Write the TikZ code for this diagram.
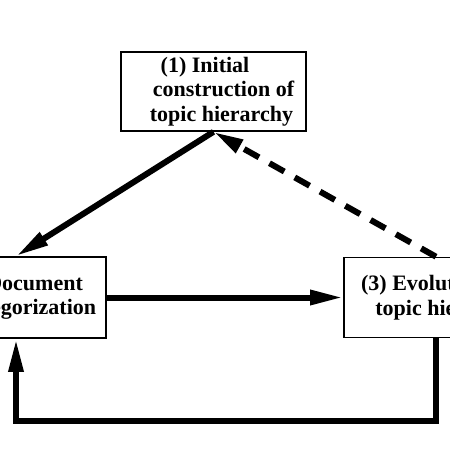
\documentclass[tikz,border=0pt]{standalone}
\usepackage{fontspec}
\setmainfont{Liberation Serif}
\usetikzlibrary{arrows.meta}
\begin{document}
\begin{tikzpicture}[x=1pt,y=-1pt,
  box/.style={draw, line width=1.6pt, fill=white, inner sep=0pt, align=center,
    font=\fontsize{22}{24.5}\selectfont\bfseries},
  flow/.style={line width=6pt, -{Triangle[length=33pt,width=14pt]}},
  feedback/.style={flow, dash pattern=on 17pt off 12pt, -{Triangle[length=30pt,width=14pt]}}
]
\useasboundingbox (0,0) rectangle (450,450);
\clip (0,0) rectangle (450,450);
\node[box, minimum width=185pt, minimum height=79pt] (T) at (213.5,91.5)
  {(1) Initial\rule{17pt}{0pt}\\\rule{20pt}{0pt}construction of\\\rule{16pt}{0pt}topic hierarchy};
\node[box, minimum width=180pt, minimum height=81pt] (L) at (16,297.5)
  {\rule{6pt}{0pt}(2) Document\\\rule{27pt}{0pt}categorization};
\node[box, minimum width=184pt, minimum height=80pt] (R) at (436,297.5)
  {(3) Evolution of\rule{3pt}{0pt}\\\rule{22pt}{0pt}topic hierarchy};
\coordinate (B) at (436,421);
\draw[flow] (T.south) -- (L.north);
\draw[flow] (L.east) -- (R.west);
\draw[feedback] (R.north) -- (T.south);
\draw[flow] (R.south) -- (R.south |- B) -| (L.south);
\end{tikzpicture}
\end{document}
